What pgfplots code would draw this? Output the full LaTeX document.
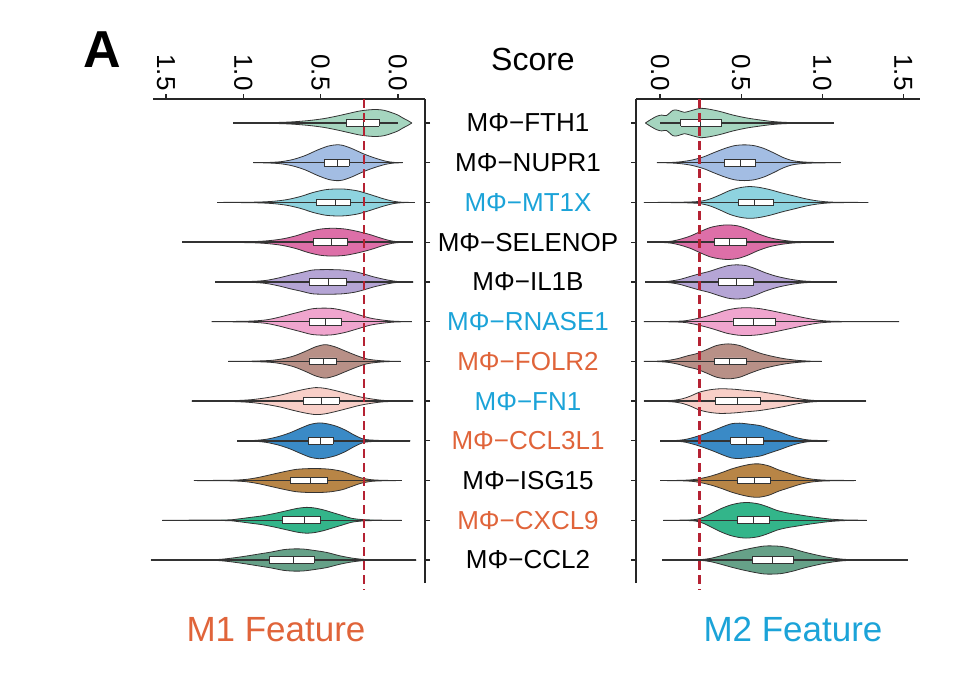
\documentclass[border=0pt]{standalone}
\usepackage{pgfplots}
\pgfplotsset{compat=1.18}
\usepackage{fontspec}
\setmainfont{Liberation Sans}

\definecolor{vFTH}{HTML}{A5D5BF}
\definecolor{vNUP}{HTML}{A3BDE3}
\definecolor{vMT}{HTML}{8ED3DF}
\definecolor{vSEL}{HTML}{DD6FA8}
\definecolor{vIL}{HTML}{B5A5D5}
\definecolor{vRN}{HTML}{F0A5CE}
\definecolor{vFOL}{HTML}{B89087}
\definecolor{vFN}{HTML}{F8CFC8}
\definecolor{vCCLt}{HTML}{3A8AC6}
\definecolor{vISG}{HTML}{B88546}
\definecolor{vCX}{HTML}{33B58A}
\definecolor{vCCLb}{HTML}{66A188}
\definecolor{mred}{HTML}{B52233}
\definecolor{tblue}{HTML}{1BA3D8}
\definecolor{torange}{HTML}{E0643A}
\definecolor{vline}{HTML}{333333}

\pgfplotsset{
  vpanel/.style={
    scale only axis, height=484pt,
    ymin=0.421, ymax=12.604, ytick={1,...,12},
    tick align=outside, major tick length=5pt,
    axis line style={line width=1.2pt, color=black!85},
    tick style={line width=1.2pt, color=black!85},
    xticklabel style={rotate=-90, anchor=east, font=\fontsize{26}{30}\selectfont},
    clip=false,
  },
  dline/.style={mred, line width=2.6pt, dash pattern=on 9pt off 5pt},
}

% #1 sign, #2 position, #3 fill, #4 lo, #5 q1, #6 median, #7 q3, #8 hi, #9 contour x/halfwidth
\newcommand{\violin}[9]{%
  \gdef\vup{}\gdef\vlo{}\gdef\vfirst{}%
  \foreach \x/\w in {#9}{%
    \pgfmathsetmacro\vx{#1*\x}%
    \pgfmathsetmacro\vya{#2+\w}%
    \pgfmathsetmacro\vyb{#2-\w}%
    \xdef\vup{\vup(\vx,\vya)}%
    \ifdim\w pt=0pt
      \ifx\vfirst\empty\xdef\vfirst{(\vx,\vya)}\fi
    \else
      \xdef\vlo{(\vx,\vyb)\vlo}%
    \fi
  }%
  \pgfmathsetmacro\va{#1*#4}\pgfmathsetmacro\vb{#1*#8}%
  \pgfmathsetmacro\vqa{#1*#5}\pgfmathsetmacro\vm{#1*#6}\pgfmathsetmacro\vqb{#1*#7}%
  \pgfmathsetmacro\yb{#2-0.085}\pgfmathsetmacro\yt{#2+0.085}%
  \edef\vplot{%
    \noexpand\addplot[fill=#3, draw=vline, line width=0.8pt, smooth] coordinates {\vup\vlo\vfirst};
    \noexpand\addplot[vline, line width=1.4pt] coordinates {(\va,#2) (\vb,#2)};
    \noexpand\addplot[fill=white, draw=vline, line width=0.9pt] coordinates {(\vqa,\yb) (\vqb,\yb) (\vqb,\yt) (\vqa,\yt) (\vqa,\yb)};
    \noexpand\addplot[vline, line width=0.9pt] coordinates {(\vm,\yb) (\vm,\yt)};
  }%
  \vplot
}

\begin{document}
\begin{tikzpicture}
\path[use as bounding box] (0pt,0pt) rectangle (954pt,-673pt);
\node[anchor=base, font=\bfseries\fontsize{52}{60}\selectfont] at (102pt,-67pt) {A};
\node[anchor=base, font=\fontsize{32}{36}\selectfont] at (533pt,-70pt) {Score};

\begin{axis}[vpanel, at={(153pt,-99pt)}, anchor=north west, width=272pt,
  xmin=-1.584, xmax=0.175, xtick={-1.5,-1,-0.5,0}, xticklabels={1.5,1.0,0.5,0.0},
  axis x line*=top, axis y line*=right,
  yticklabels={
    {MΦ−CCL2},
    {\color{torange}MΦ−CXCL9},
    {MΦ−ISG15},
    {\color{torange}MΦ−CCL3L1},
    {\color{tblue}MΦ−FN1},
    {\color{torange}MΦ−FOLR2},
    {\color{tblue}MΦ−RNASE1},
    {MΦ−IL1B},
    {MΦ−SELENOP},
    {\color{tblue}MΦ−MT1X},
    {MΦ−NUPR1},
    {MΦ−FTH1}},
  yticklabel style={anchor=center, xshift=98pt, font=\fontsize{26}{30}\selectfont}]
\violin{-1}{12}{vFTH}{0.0}{0.12}{0.22}{0.33}{1.064}{-0.09/0, -0.06/0.07, -0.03/0.13, 0.0/0.2, 0.04/0.26, 0.09/0.32, 0.14/0.34, 0.19/0.33, 0.25/0.3, 0.32/0.24, 0.4/0.17, 0.48/0.11, 0.58/0.06, 0.7/0.025, 0.85/0.008, 1.064/0}
\violin{-1}{11}{vNUP}{-0.03}{0.315}{0.39}{0.478}{0.935}{-0.03/0, 0.03/0.01, 0.08/0.04, 0.15/0.12, 0.22/0.22, 0.3/0.36, 0.36/0.44, 0.40/0.45, 0.45/0.42, 0.52/0.32, 0.6/0.18, 0.68/0.08, 0.76/0.025, 0.85/0.005, 0.935/0}
\violin{-1}{10}{vMT}{-0.11}{0.305}{0.407}{0.525}{1.17}{-0.11/0, -0.03/0.005, 0.03/0.03, 0.1/0.1, 0.18/0.2, 0.26/0.29, 0.34/0.335, 0.40/0.34, 0.47/0.32, 0.55/0.25, 0.63/0.15, 0.72/0.07, 0.82/0.025, 0.95/0.006, 1.17/0}
\violin{-1}{9}{vSEL}{-0.095}{0.328}{0.43}{0.547}{1.394}{-0.095/0, -0.02/0.005, 0.04/0.03, 0.1/0.09, 0.18/0.19, 0.26/0.27, 0.34/0.33, 0.42/0.35, 0.5/0.33, 0.58/0.26, 0.66/0.16, 0.75/0.08, 0.86/0.03, 1.0/0.01, 1.394/0}
\violin{-1}{8}{vIL}{-0.10}{0.33}{0.45}{0.573}{1.18}{-0.10/0, 0.0/0.01, 0.07/0.05, 0.16/0.13, 0.22/0.2, 0.28/0.26, 0.36/0.3, 0.45/0.31, 0.55/0.3, 0.63/0.23, 0.7/0.17, 0.76/0.11, 0.85/0.04, 0.95/0.012, 1.18/0}
\violin{-1}{7}{vRN}{-0.09}{0.364}{0.47}{0.573}{1.204}{-0.09/0, 0.02/0.01, 0.1/0.04, 0.18/0.09, 0.26/0.18, 0.34/0.27, 0.42/0.33, 0.49/0.34, 0.56/0.32, 0.64/0.24, 0.71/0.17, 0.78/0.1, 0.86/0.04, 0.98/0.01, 1.204/0}
\violin{-1}{6}{vFOL}{-0.017}{0.396}{0.483}{0.573}{1.097}{-0.017/0, 0.05/0.005, 0.12/0.02, 0.2/0.06, 0.27/0.15, 0.34/0.26, 0.41/0.37, 0.47/0.42, 0.53/0.37, 0.6/0.25, 0.67/0.14, 0.74/0.07, 0.82/0.025, 0.95/0.005, 1.097/0}
\violin{-1}{5}{vFN}{-0.10}{0.379}{0.493}{0.612}{1.334}{-0.10/0, 0.0/0.005, 0.1/0.02, 0.18/0.06, 0.25/0.11, 0.32/0.18, 0.4/0.26, 0.47/0.32, 0.53/0.34, 0.6/0.3, 0.68/0.23, 0.76/0.15, 0.85/0.085, 0.95/0.035, 1.08/0.01, 1.334/0}
\violin{-1}{4}{vCCLt}{-0.08}{0.418}{0.498}{0.58}{1.039}{-0.08/0, 0.05/0.003, 0.15/0.015, 0.22/0.04, 0.28/0.14, 0.34/0.27, 0.4/0.37, 0.46/0.43, 0.51/0.45, 0.57/0.41, 0.64/0.3, 0.7/0.2, 0.77/0.11, 0.85/0.04, 0.93/0.01, 1.039/0}
\violin{-1}{3}{vISG}{-0.024}{0.455}{0.565}{0.694}{1.319}{-0.024/0, 0.08/0.005, 0.17/0.02, 0.24/0.07, 0.3/0.15, 0.36/0.23, 0.43/0.28, 0.5/0.3, 0.58/0.3, 0.66/0.28, 0.74/0.22, 0.82/0.15, 0.9/0.08, 0.98/0.03, 1.08/0.008, 1.319/0}
\violin{-1}{2}{vCX}{-0.024}{0.504}{0.607}{0.745}{1.524}{-0.024/0, 0.1/0.003, 0.22/0.015, 0.3/0.05, 0.36/0.12, 0.42/0.19, 0.48/0.26, 0.54/0.31, 0.59/0.325, 0.65/0.3, 0.72/0.24, 0.8/0.17, 0.88/0.11, 0.96/0.07, 1.04/0.03, 1.12/0.008, 1.524/0}
\violin{-1}{1}{vCCLb}{-0.12}{0.543}{0.677}{0.832}{1.597}{-0.12/0, 0.1/0.003, 0.22/0.015, 0.3/0.05, 0.38/0.11, 0.46/0.19, 0.54/0.24, 0.61/0.275, 0.67/0.28, 0.74/0.26, 0.82/0.2, 0.9/0.15, 0.98/0.1, 1.06/0.055, 1.14/0.02, 1.24/0.005, 1.597/0}
\addplot[dline] coordinates {(-0.22,12.604) (-0.22,0.245)};
\end{axis}

\begin{axis}[vpanel, at={(636pt,-99pt)}, anchor=north west, width=284pt,
  xmin=-0.148, xmax=1.603, xtick={0,0.5,1,1.5}, xticklabels={0.0,0.5,1.0,1.5},
  axis x line*=top, axis y line*=left, yticklabels={,,,,,,,,,,,,}]
\violin{1}{12}{vFTH}{0.0}{0.128}{0.247}{0.38}{1.07}{-0.09/0, -0.06/0.08, -0.02/0.17, 0.01/0.2, 0.04/0.19, 0.08/0.32, 0.11/0.32, 0.15/0.27, 0.2/0.32, 0.25/0.37, 0.3/0.35, 0.37/0.29, 0.45/0.2, 0.53/0.13, 0.61/0.08, 0.7/0.035, 0.82/0.01, 1.07/0}
\violin{1}{11}{vNUP}{-0.02}{0.395}{0.493}{0.586}{1.114}{-0.02/0, 0.06/0.005, 0.13/0.025, 0.2/0.07, 0.27/0.15, 0.33/0.25, 0.4/0.36, 0.46/0.43, 0.52/0.45, 0.58/0.43, 0.64/0.36, 0.7/0.25, 0.76/0.13, 0.82/0.05, 0.9/0.015, 1.0/0.004, 1.114/0}
\violin{1}{10}{vMT}{-0.10}{0.483}{0.58}{0.70}{1.284}{-0.10/0, 0.05/0.003, 0.17/0.01, 0.25/0.03, 0.31/0.09, 0.37/0.19, 0.43/0.3, 0.49/0.37, 0.55/0.4, 0.61/0.38, 0.68/0.32, 0.75/0.24, 0.83/0.16, 0.9/0.09, 0.97/0.04, 1.05/0.01, 1.15/0.003, 1.284/0}
\violin{1}{9}{vSEL}{-0.08}{0.335}{0.427}{0.53}{1.07}{-0.08/0, 0.0/0.005, 0.07/0.025, 0.13/0.08, 0.19/0.16, 0.25/0.27, 0.31/0.37, 0.37/0.42, 0.42/0.435, 0.48/0.41, 0.54/0.33, 0.6/0.22, 0.67/0.12, 0.74/0.06, 0.82/0.02, 0.92/0.005, 1.07/0}
\violin{1}{8}{vIL}{-0.09}{0.36}{0.47}{0.575}{1.09}{-0.09/0, 0.0/0.005, 0.06/0.02, 0.12/0.06, 0.18/0.13, 0.24/0.2, 0.3/0.26, 0.36/0.34, 0.42/0.41, 0.47/0.43, 0.53/0.41, 0.59/0.33, 0.65/0.23, 0.72/0.14, 0.8/0.07, 0.88/0.025, 0.98/0.005, 1.09/0}
\violin{1}{7}{vRN}{-0.10}{0.45}{0.575}{0.71}{1.475}{-0.10/0, 0.05/0.005, 0.15/0.02, 0.22/0.07, 0.28/0.13, 0.34/0.2, 0.41/0.29, 0.48/0.34, 0.54/0.35, 0.61/0.33, 0.68/0.28, 0.75/0.22, 0.83/0.15, 0.9/0.09, 0.97/0.04, 1.05/0.012, 1.18/0.003, 1.475/0}
\violin{1}{6}{vFOL}{-0.10}{0.335}{0.427}{0.53}{0.997}{-0.10/0, -0.02/0.005, 0.05/0.025, 0.11/0.07, 0.17/0.14, 0.23/0.2, 0.29/0.3, 0.35/0.4, 0.42/0.44, 0.49/0.4, 0.56/0.29, 0.63/0.19, 0.7/0.12, 0.77/0.065, 0.85/0.025, 0.93/0.005, 0.997/0}
\violin{1}{5}{vFN}{-0.10}{0.34}{0.477}{0.62}{1.27}{-0.10/0, 0.0/0.005, 0.08/0.02, 0.14/0.06, 0.19/0.13, 0.24/0.22, 0.3/0.28, 0.37/0.31, 0.45/0.3, 0.53/0.27, 0.61/0.24, 0.69/0.19, 0.76/0.14, 0.83/0.08, 0.9/0.035, 0.98/0.01, 1.1/0.003, 1.27/0}
\violin{1}{4}{vCCLt}{0.0}{0.437}{0.53}{0.637}{1.03}{0.0/0, 0.08/0.005, 0.15/0.03, 0.21/0.09, 0.27/0.17, 0.33/0.26, 0.39/0.36, 0.44/0.43, 0.49/0.445, 0.55/0.42, 0.62/0.38, 0.68/0.3, 0.74/0.22, 0.8/0.13, 0.86/0.06, 0.92/0.02, 1.03/0}
\violin{1}{3}{vISG}{0.0}{0.477}{0.58}{0.678}{1.207}{0.0/0, 0.12/0.005, 0.2/0.02, 0.26/0.06, 0.32/0.12, 0.38/0.2, 0.44/0.29, 0.5/0.36, 0.56/0.41, 0.61/0.42, 0.67/0.37, 0.73/0.27, 0.79/0.19, 0.86/0.1, 0.93/0.04, 1.02/0.01, 1.207/0}
\violin{1}{2}{vCX}{0.02}{0.477}{0.575}{0.674}{1.274}{0.02/0, 0.15/0.005, 0.22/0.02, 0.27/0.08, 0.32/0.18, 0.38/0.3, 0.44/0.39, 0.5/0.44, 0.55/0.445, 0.61/0.41, 0.67/0.33, 0.72/0.25, 0.78/0.19, 0.84/0.15, 0.9/0.11, 0.97/0.07, 1.05/0.03, 1.14/0.008, 1.274/0}
\violin{1}{1}{vCCLb}{0.015}{0.57}{0.695}{0.82}{1.527}{0.015/0, 0.15/0.003, 0.25/0.01, 0.31/0.04, 0.37/0.1, 0.44/0.18, 0.51/0.25, 0.58/0.31, 0.64/0.35, 0.69/0.355, 0.75/0.34, 0.82/0.28, 0.88/0.21, 0.95/0.14, 1.02/0.08, 1.09/0.035, 1.17/0.01, 1.3/0.002, 1.527/0}
\addplot[dline] coordinates {(0.245,12.604) (0.245,0.245)};
\end{axis}

\node[anchor=base, text=torange, font=\fontsize{35}{40}\selectfont] at (276pt,-641pt) {M1 Feature};
\node[anchor=base, text=tblue, font=\fontsize{35}{40}\selectfont] at (793pt,-641pt) {M2 Feature};
\end{tikzpicture}
\end{document}
